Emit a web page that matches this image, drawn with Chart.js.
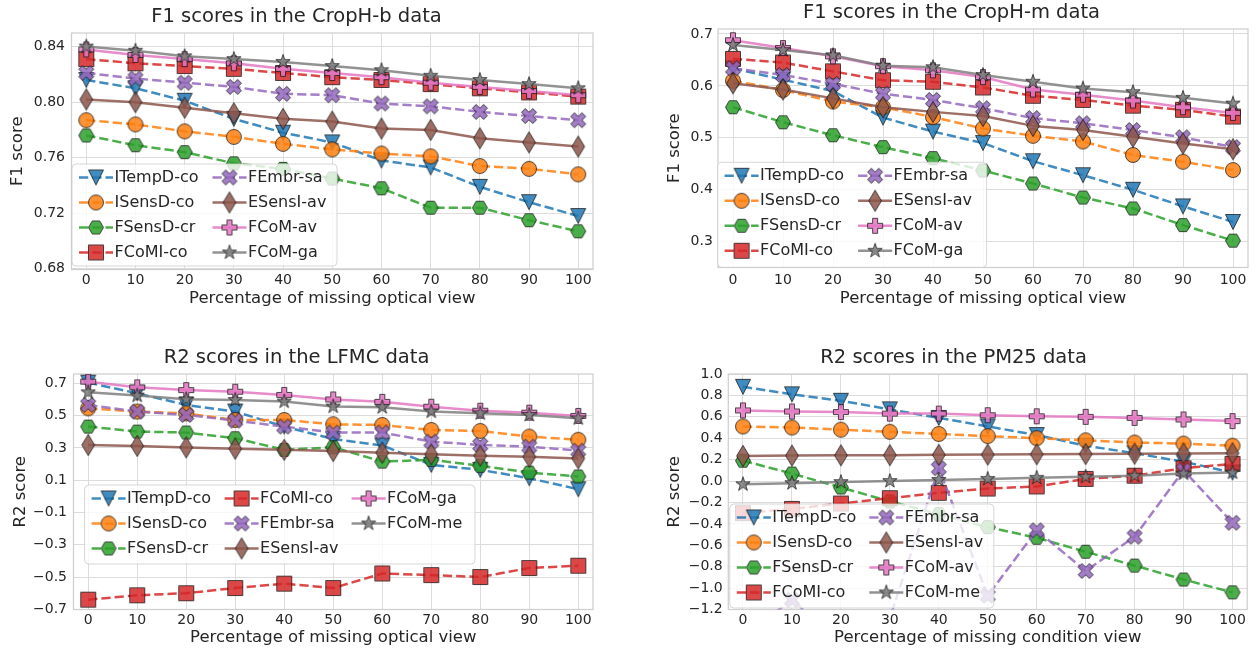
<!DOCTYPE html>
<html>
<head>
<meta charset="utf-8">
<title>Scores with missing views</title>
<script src="https://cdn.jsdelivr.net/npm/chart.js@4.4.1/dist/chart.umd.min.js"></script>
<style>
  html, body { margin: 0; padding: 0; background: #fff; overflow: hidden; }
  canvas { position: absolute; }
</style>
</head>
<body>
<canvas id="chartCropHb"></canvas>
<canvas id="chartCropHm"></canvas>
<canvas id="chartLFMC"></canvas>
<canvas id="chartPM25"></canvas>
<script>
// percentage of the view that is missing (x axis of every panel)
const missingPct = [0, 10, 20, 30, 40, 50, 60, 70, 80, 90, 100];

// legend names (last two differ between panels)
const namesAvGa = ['ITempD-co', 'ISensD-co', 'FSensD-cr', 'FCoMI-co', 'FEmbr-sa', 'ESensI-av', 'FCoM-av', 'FCoM-ga'];
const namesGaMe = ['ITempD-co', 'ISensD-co', 'FSensD-cr', 'FCoMI-co', 'FEmbr-sa', 'ESensI-av', 'FCoM-ga', 'FCoM-me'];
const namesAvMe = ['ITempD-co', 'ISensD-co', 'FSensD-cr', 'FCoMI-co', 'FEmbr-sa', 'ESensI-av', 'FCoM-av', 'FCoM-me'];

// F1, CropH-b
const hbITempD = [0.816, 0.810, 0.801, 0.788, 0.778, 0.771, 0.758, 0.753, 0.739, 0.728, 0.718];
const hbISensD = [0.787, 0.784, 0.779, 0.775, 0.770, 0.766, 0.763, 0.761, 0.754, 0.752, 0.748];
const hbFSensD = [0.776, 0.769, 0.764, 0.756, 0.752, 0.745, 0.738, 0.724, 0.724, 0.715, 0.707];
const hbFCoMI  = [0.831, 0.828, 0.826, 0.824, 0.821, 0.818, 0.816, 0.813, 0.810, 0.807, 0.804];
const hbFEmbr  = [0.821, 0.817, 0.814, 0.811, 0.806, 0.805, 0.799, 0.797, 0.793, 0.790, 0.787];
const hbESensI = [0.802, 0.800, 0.796, 0.792, 0.788, 0.786, 0.781, 0.780, 0.774, 0.771, 0.768];
const hbFCoMav = [0.838, 0.834, 0.831, 0.828, 0.824, 0.821, 0.818, 0.814, 0.811, 0.808, 0.805];
const hbFCoMga = [0.840, 0.837, 0.833, 0.831, 0.829, 0.826, 0.823, 0.819, 0.816, 0.813, 0.810];
const hbTicks  = [0.68, 0.72, 0.76, 0.80, 0.84];

// F1, CropH-m
const hmITempD = [0.634, 0.612, 0.590, 0.539, 0.512, 0.490, 0.455, 0.428, 0.400, 0.368, 0.338];
const hmISensD = [0.610, 0.592, 0.570, 0.559, 0.540, 0.518, 0.504, 0.493, 0.467, 0.454, 0.438];
const hmFSensD = [0.559, 0.530, 0.505, 0.482, 0.461, 0.437, 0.412, 0.385, 0.364, 0.332, 0.302];
const hmFCoMI  = [0.652, 0.645, 0.628, 0.611, 0.608, 0.597, 0.581, 0.573, 0.562, 0.554, 0.541];
const hmFEmbr  = [0.634, 0.621, 0.604, 0.585, 0.573, 0.557, 0.538, 0.528, 0.515, 0.501, 0.482];
const hmESensI = [0.605, 0.593, 0.576, 0.559, 0.550, 0.542, 0.523, 0.515, 0.502, 0.489, 0.478];
const hmFCoMav = [0.688, 0.673, 0.657, 0.638, 0.630, 0.617, 0.593, 0.583, 0.572, 0.559, 0.548];
const hmFCoMga = [0.679, 0.669, 0.659, 0.639, 0.636, 0.621, 0.608, 0.595, 0.588, 0.577, 0.566];
const hmTicks  = [0.3, 0.4, 0.5, 0.6, 0.7];

// R2, LFMC
const lfITempD = [0.704, 0.638, 0.566, 0.525, 0.432, 0.355, 0.315, 0.195, 0.164, 0.112, 0.044];
const lfISensD = [0.545, 0.525, 0.514, 0.473, 0.473, 0.446, 0.442, 0.411, 0.405, 0.370, 0.350];
const lfFSensD = [0.432, 0.401, 0.395, 0.360, 0.288, 0.304, 0.215, 0.226, 0.189, 0.147, 0.123];
const lfFCoMI  = [-0.640, -0.613, -0.600, -0.568, -0.541, -0.568, -0.478, -0.488, -0.500, -0.444, -0.430];
const lfFEmbr  = [0.566, 0.525, 0.504, 0.469, 0.432, 0.395, 0.395, 0.339, 0.318, 0.308, 0.283];
const lfESensI = [0.318, 0.312, 0.303, 0.295, 0.288, 0.280, 0.270, 0.260, 0.252, 0.245, 0.235];
const lfFCoMga = [0.710, 0.675, 0.658, 0.648, 0.628, 0.600, 0.585, 0.555, 0.530, 0.518, 0.498];
const lfFCoMme = [0.644, 0.624, 0.601, 0.597, 0.587, 0.556, 0.552, 0.525, 0.514, 0.504, 0.483];
const lfTicks  = [-0.7, -0.5, -0.3, -0.1, 0.1, 0.3, 0.5, 0.7];

// R2, PM25
const pmITempD = [0.88, 0.81, 0.75, 0.67, 0.59, 0.51, 0.43, 0.33, 0.26, 0.18, 0.08];
const pmISensD = [0.51, 0.50, 0.48, 0.46, 0.44, 0.42, 0.40, 0.38, 0.36, 0.35, 0.33];
const pmFSensD = [0.19, 0.07, -0.06, -0.19, -0.31, -0.43, -0.53, -0.66, -0.79, -0.92, -1.04];
const pmFCoMI  = [-0.30, -0.26, -0.21, -0.16, -0.11, -0.07, -0.05, 0.02, 0.05, 0.12, 0.16];
const pmFEmbr  = [-1.45, -1.11, -1.50, -1.28, 0.12, -1.07, -0.46, -0.84, -0.52, 0.10, -0.39];
const pmESensI = [0.235, 0.238, 0.240, 0.242, 0.245, 0.247, 0.250, 0.252, 0.255, 0.258, 0.260];
const pmFCoMav = [0.66, 0.65, 0.645, 0.63, 0.63, 0.615, 0.605, 0.60, 0.59, 0.575, 0.56];
const pmFCoMme = [-0.03, -0.02, -0.01, 0.0, 0.01, 0.02, 0.03, 0.04, 0.05, 0.07, 0.08];
const pmTicks  = [-1.2, -1.0, -0.8, -0.6, -0.4, -0.2, 0.0, 0.2, 0.4, 0.6, 0.8, 1.0];

const FONT = "'DejaVu Sans', sans-serif";
const TEXT = '#262626';
Chart.defaults.font.family = FONT;
Chart.defaults.color = TEXT;

// colour / marker / dash per series slot (same in all four panels)
const lineStyles = [
  { color: '#1f77b4', marker: 'v', dashed: true },
  { color: '#ff7f0e', marker: 'o', dashed: true },
  { color: '#2ca02c', marker: 'H', dashed: true },
  { color: '#d62728', marker: 's', dashed: true },
  { color: '#9467bd', marker: 'X', dashed: true },
  { color: '#8c564b', marker: 'd', dashed: false },
  { color: '#e377c2', marker: 'P', dashed: false },
  { color: '#7f7f7f', marker: '*', dashed: false }
];

function withAlpha(hex, a) {
  const n = parseInt(hex.slice(1), 16);
  return `rgba(${n >> 16},${(n >> 8) & 255},${n & 255},${a})`;
}

// matplotlib-like marker drawn once into a small canvas
function markerImage(shape, color, ms) {
  const size = Math.ceil(ms * 1.6) + 2;
  const c = document.createElement('canvas');
  c.width = size; c.height = size;
  const g = c.getContext('2d');
  g.translate(size / 2, size / 2);
  const h = ms / 2;
  let pts = null;
  if (shape === 'v') pts = [[-h, -h], [h, -h], [0, h]];
  if (shape === 's') pts = [[-h, -h], [h, -h], [h, h], [-h, h]];
  if (shape === 'H') pts = [0, 1, 2, 3, 4, 5].map(k => [h * Math.cos(k * Math.PI / 3), h * Math.sin(k * Math.PI / 3)]);
  if (shape === 'X') pts = [[-1, -2], [0, -1], [1, -2], [2, -1], [1, 0], [2, 1], [1, 2], [0, 1], [-1, 2], [-2, 1], [-1, 0], [-2, -1]]
    .map(p => [p[0] * ms / 4, p[1] * ms / 4]);
  if (shape === 'P') pts = [[-1, -3], [1, -3], [1, -1], [3, -1], [3, 1], [1, 1], [1, 3], [-1, 3], [-1, 1], [-3, 1], [-3, -1], [-1, -1]]
    .map(p => [p[0] * ms / 6, p[1] * ms / 6]);
  if (shape === 'd') {
    const a = ms * Math.SQRT2 / 2;
    pts = [[0, -a], [0.6 * a, 0], [0, a], [-0.6 * a, 0]];
  }
  if (shape === '*') {
    pts = [];
    for (let k = 0; k < 10; k++) {
      const r = k % 2 ? h * 0.381966 : h;
      const ang = -Math.PI / 2 + k * Math.PI / 5;
      pts.push([r * Math.cos(ang), r * Math.sin(ang)]);
    }
  }
  g.beginPath();
  if (shape === 'o') g.arc(0, 0, h, 0, Math.PI * 2);
  else { pts.forEach((p, i) => i ? g.lineTo(p[0], p[1]) : g.moveTo(p[0], p[1])); g.closePath(); }
  g.fillStyle = withAlpha(color, 0.85);
  g.fill();
  g.lineJoin = 'miter';
  g.lineWidth = 1;
  g.strokeStyle = 'rgba(20,20,20,0.75)';
  g.stroke();
  return c;
}

const panels = [
  {
    id: 'chartCropHb', title: 'F1 scores in the CropH-b data', yTitle: 'F1 score',
    xTitle: 'Percentage of missing optical view', names: namesAvGa,
    series: [hbITempD, hbISensD, hbFSensD, hbFCoMI, hbFEmbr, hbESensI, hbFCoMav, hbFCoMga],
    yMin: 0.6795, yMax: 0.8498, yTicks: hbTicks, decimals: 2,
    box: { left: 0, top: 0, width: 664, height: 320 },
    area: { left: 71.5, top: 33, right: 593, bottom: 269.5 },
    titleY: 17, xTickY: 280, xTitleY: 298.3, yTitleX: 18, yTickRight: 65,
    legend: { left: 72, top: 164, width: 265, height: 102, rows: 4, colX: [0, 133.5] }
  },
  {
    id: 'chartCropHm', title: 'F1 scores in the CropH-m data', yTitle: 'F1 score',
    xTitle: 'Percentage of missing optical view', names: namesAvGa,
    series: [hmITempD, hmISensD, hmFSensD, hmFCoMI, hmFEmbr, hmESensI, hmFCoMav, hmFCoMga],
    yMin: 0.2503, yMax: 0.7096, yTicks: hmTicks, decimals: 1,
    box: { left: 655, top: 0, width: 656, height: 320 },
    area: { left: 718, top: 29, right: 1248, bottom: 267.5 },
    titleY: 13, xTickY: 280, xTitleY: 298.3, yTitleX: 675, yTickRight: 712.8,
    legend: { left: 717.6, top: 162.3, width: 269, height: 105, rows: 4, colX: [0, 133.5] }
  },
  {
    id: 'chartLFMC', title: 'R2 scores in the LFMC data', yTitle: 'R2 score',
    xTitle: 'Percentage of missing optical view', names: namesGaMe,
    series: [lfITempD, lfISensD, lfFSensD, lfFCoMI, lfFEmbr, lfESensI, lfFCoMga, lfFCoMme],
    yMin: -0.701, yMax: 0.7576, yTicks: lfTicks, decimals: 1,
    box: { left: 0, top: 330, width: 666, height: 319 },
    area: { left: 73.5, top: 374, right: 593, bottom: 609.5 },
    titleY: 358, xTickY: 620, xTitleY: 638, yTitleX: 21, yTickRight: 67,
    legend: { left: 84.6, top: 485, width: 390.4, height: 79, rows: 3, colX: [0, 133, 260] }
  },
  {
    id: 'chartPM25', title: 'R2 scores in the PM25 data', yTitle: 'R2 score',
    xTitle: 'Percentage of missing condition view', names: namesAvMe,
    series: [pmITempD, pmISensD, pmFSensD, pmFCoMI, pmFEmbr, pmESensI, pmFCoMav, pmFCoMme],
    yMin: -1.2, yMax: 1.0, yTicks: pmTicks, decimals: 1,
    box: { left: 660, top: 330, width: 655, height: 319 },
    area: { left: 728.3, top: 374, right: 1247.2, bottom: 609.5 },
    titleY: 358, xTickY: 620, xTitleY: 638, yTitleX: 675, yTickRight: 722.7,
    legend: { left: 729.8, top: 504, width: 264, height: 104, rows: 4, colX: [0, 132.5] }
  }
];

const titleSize = 19.5, labelSize = 16.5, tickSize = 14, legendSize = 16;
const lh = s => s * 1.2;

// axes frame (all four spines)
function framePlugin() {
  return {
    id: 'frame',
    beforeDatasetsDraw(chart) {
      const a = chart.chartArea, ctx = chart.ctx;
      ctx.save();
      ctx.strokeStyle = '#cfcfcf';
      ctx.lineWidth = 1.25;
      ctx.strokeRect(a.left, a.top, a.right - a.left, a.bottom - a.top);
      ctx.restore();
    }
  };
}

// legend box inside the axes, column-major like matplotlib's ncol legend
function legendPlugin(p) {
  return {
    id: 'insideLegend',
    afterDatasetsDraw(chart) {
      const lg = p.legend, ctx = chart.ctx;
      const x0 = lg.left - p.box.left, y0 = lg.top - p.box.top;
      ctx.save();
      ctx.beginPath();
      ctx.roundRect(x0, y0, lg.width, lg.height, 4);
      ctx.fillStyle = 'rgba(255,255,255,0.8)';
      ctx.fill();
      ctx.strokeStyle = 'rgba(204,204,204,0.8)';
      ctx.lineWidth = 1;
      ctx.stroke();
      ctx.font = legendSize + 'px ' + FONT;
      ctx.textBaseline = 'middle';
      chart.data.datasets.forEach((ds, i) => {
        const col = Math.floor(i / lg.rows), row = i % lg.rows;
        const hx = x0 + 7 + lg.colX[col];
        const hy = y0 + 13.5 + row * 25;
        ctx.setLineDash(ds.borderDash);
        ctx.lineWidth = ds.borderWidth;
        ctx.strokeStyle = ds.borderColor;
        ctx.beginPath();
        ctx.moveTo(hx, hy);
        ctx.lineTo(hx + 34, hy);
        ctx.stroke();
        ctx.setLineDash([]);
        const img = ds.pointStyle;
        ctx.drawImage(img, hx + 17 - img.width / 2, hy - img.height / 2);
        ctx.fillStyle = TEXT;
        ctx.fillText(ds.label, hx + 35.5, hy + 0.5);
      });
      ctx.restore();
    }
  };
}

function fmtTick(v, d) {
  return v.toFixed(d).replace('-', '\u2212');
}

panels.forEach(p => {
  const canvas = document.getElementById(p.id);
  canvas.width = p.box.width;
  canvas.height = p.box.height;
  canvas.style.left = p.box.left + 'px';
  canvas.style.top = p.box.top + 'px';
  canvas.style.width = p.box.width + 'px';
  canvas.style.height = p.box.height + 'px';

  const titleTop = p.titleY - p.box.top - lh(titleSize) / 2;
  const titleBottom = p.area.top - p.box.top - lh(titleSize) - titleTop;
  const boxBottom = p.box.top + p.box.height;

  const datasets = p.series.map((vals, i) => {
    const st = lineStyles[i];
    return {
      label: p.names[i],
      data: missingPct.map((x, k) => ({ x: x, y: vals[k] })),
      borderColor: withAlpha(st.color, 0.85),
      borderWidth: 2.5,
      borderDash: st.dashed ? [9.25, 4] : [],
      borderJoinStyle: 'round',
      pointStyle: markerImage(st.marker, st.color, 15),
      pointRadius: 7.5,
      pointBorderWidth: 0,
      tension: 0,
      fill: false,
      clip: 0,
      order: p.series.length - i
    };
  });

  new Chart(canvas, {
    type: 'line',
    data: { datasets },
    options: {
      responsive: false,
      animation: false,
      events: [],
      layout: { padding: { left: 0, top: 0, bottom: 0, right: p.box.left + p.box.width - p.area.right } },
      plugins: {
        legend: { display: false },
        tooltip: { enabled: false },
        title: {
          display: true, text: p.title, color: TEXT,
          font: { size: titleSize, weight: 'normal' },
          padding: { top: titleTop, bottom: titleBottom }
        }
      },
      scales: {
        x: {
          type: 'linear', min: -3, max: 103,
          afterBuildTicks: s => { s.ticks = missingPct.map(v => ({ value: v })); },
          afterFit: s => { s.height = boxBottom - p.area.bottom; },
          ticks: {
            autoSkip: false, maxRotation: 0, color: TEXT,
            font: { size: tickSize },
            padding: p.xTickY - p.area.bottom - lh(tickSize) / 2,
            callback: v => String(v)
          },
          grid: { color: '#dcdcdc', lineWidth: 1, drawTicks: false },
          border: { display: false },
          title: {
            display: true, text: p.xTitle, color: TEXT,
            font: { size: labelSize },
            padding: { top: 0, bottom: boxBottom - p.xTitleY - lh(labelSize) / 2 }
          }
        },
        y: {
          type: 'linear', min: p.yMin, max: p.yMax,
          afterBuildTicks: s => { s.ticks = p.yTicks.map(v => ({ value: v })); },
          afterFit: s => { s.width = p.area.left - p.box.left; },
          ticks: {
            color: TEXT, font: { size: tickSize },
            padding: p.area.left - p.yTickRight,
            callback: v => fmtTick(v, p.decimals)
          },
          grid: { color: '#dcdcdc', lineWidth: 1, drawTicks: false },
          border: { display: false },
          title: {
            display: true, text: p.yTitle, color: TEXT,
            font: { size: labelSize },
            padding: { top: p.yTitleX - p.box.left - lh(labelSize) / 2, bottom: 0 }
          }
        }
      }
    },
    plugins: [framePlugin(), legendPlugin(p)]
  });
});
</script>
</body>
</html>
